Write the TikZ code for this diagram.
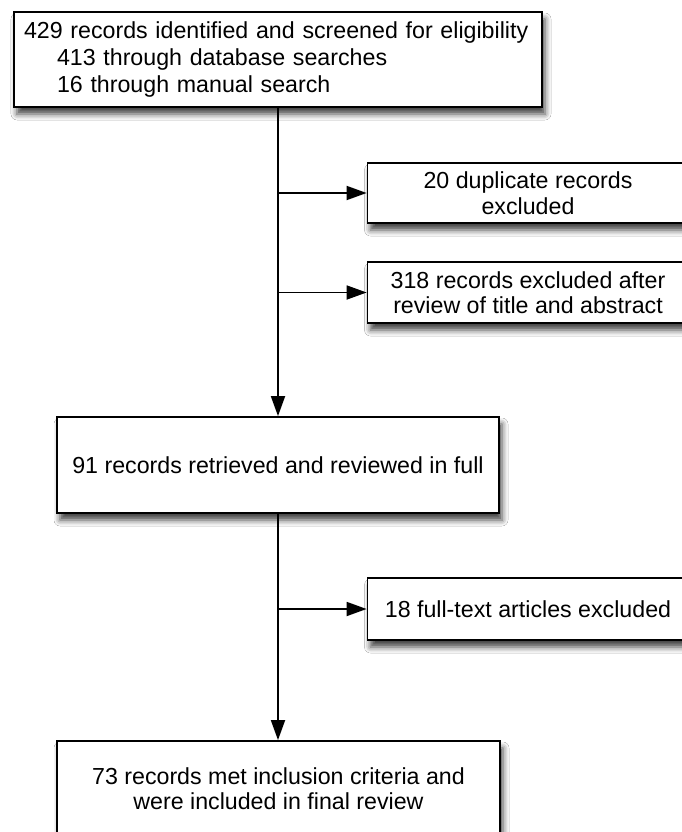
\documentclass[tikz,border=0pt]{standalone}
\usepackage{fontspec}
\setmainfont{Liberation Sans}
\usetikzlibrary{arrows.meta,shadows.blur}
\begin{document}
\begin{tikzpicture}[x=1pt,y=-1pt,
  box/.style={draw=black, line width=1.8pt, fill=white, inner sep=0pt,
    blur shadow={shadow xshift=3pt, shadow yshift=-7pt, shadow blur radius=6pt, shadow opacity=75},
    font=\fontsize{23.2}{25.5}\selectfont},
  arr/.style={line width=1.8pt, -{Triangle[length=20pt,width=14pt]}}]
\useasboundingbox (0,0) rectangle (682,832);
\clip (0,0) rectangle (682,832);
\fill[white] (0,0) rectangle (682,832);

\node[box, minimum width=528pt, minimum height=95pt, text width=508pt, align=left,
  font=\fontsize{23.2}{27}\selectfont] (top) at (278,59.5)
  {429 records identified and screened for eligibility\\
   \hspace*{33pt}413 through database searches\\
   \hspace*{33pt}16 through manual search};

\node[box, minimum width=321pt, minimum height=60pt, align=center] (dup) at (528,193)
  {20 duplicate records\\excluded};
\node[box, minimum width=321pt, minimum height=61pt, align=center] (title) at (528,292.5)
  {318 records excluded after\\review of title and abstract};
\node[box, minimum width=442pt, minimum height=96pt] (full) at (278,465)
  {91 records retrieved and reviewed in full};
\node[box, minimum width=321pt, minimum height=62pt] (ft) at (528,609)
  {18 full-text articles excluded};
\node[box, minimum width=443pt, minimum height=95pt, align=center] (final) at (278.5,788.5)
  {73 records met inclusion criteria and\\were included in final review};

\draw[arr] (top.south) -- (full.north);
\draw[arr] (top.south |- dup.west) -- (dup.west);
\draw[arr] (top.south |- title.west) -- (title.west);
\draw[arr] (full.south) -- (full.south |- final.north);
\draw[arr] (full.south |- ft.west) -- (ft.west);
\end{tikzpicture}
\end{document}
